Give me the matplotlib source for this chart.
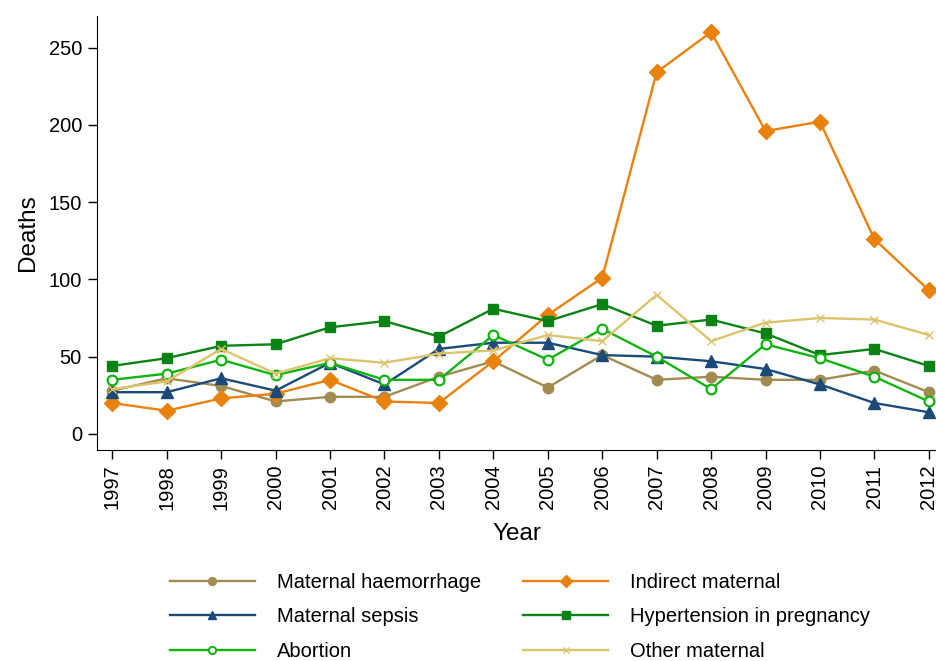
import matplotlib.pyplot as plt
import numpy as np

plt.rcParams['font.family'] = ['Liberation Sans', 'DejaVu Sans']

years = list(range(1997, 2013))

haemorrhage = [28, 36, 31, 21, 24, 24, 37, 47, 30, 51, 35, 37, 35, 35, 41, 27]
indirect = [20, 15, 23, 26, 35, 21, 20, 47, 77, 101, 234, 260, 196, 202, 126, 93]
sepsis = [27, 27, 36, 28, 46, 32, 55, 59, 59, 51, 50, 47, 42, 32, 20, 14]
hypertension = [44, 49, 57, 58, 69, 73, 63, 81, 73, 84, 70, 74, 65, 51, 55, 44]
abortion = [35, 39, 48, 38, 46, 35, 35, 64, 48, 68, 50, 29, 58, 49, 37, 21]
other = [29, 34, 55, 39, 49, 46, 52, 54, 64, 60, 90, 60, 72, 75, 74, 64]

fig = plt.figure(figsize=(9.37, 6.61), dpi=100)
ax = fig.add_axes([0.103, 0.319, 0.897, 0.657])

# (label, data, colour, marker, size, filled)
series = [
    ("Maternal haemorrhage", haemorrhage, "#A08C50", "o", 7.5, True),
    ("Indirect maternal", indirect, "#E8820C", "D", 8.5, True),
    ("Maternal sepsis", sepsis, "#1C4A78", "^", 8.5, True),
    ("Hypertension in pregnancy", hypertension, "#0A8214", "s", 7.5, True),
    ("Abortion", abortion, "#10B410", "o", 7, False),
    ("Other maternal", other, "#DCC46C", "x", 6, True),
]

handles = []
for label, vals, col, mk, ms, filled in series:
    ax.plot(years, vals, color=col, lw=1.7, marker=mk, ms=ms,
            mfc=col if filled else "white", mec=col, mew=1.6 if not filled else 1)
    # smaller markers for the legend keys
    h, = ax.plot([], [], color=col, lw=1.7, marker=mk, ms=ms * 0.75,
                 mfc=col if filled else "white", mec=col, mew=1.4 if not filled else 1)
    handles.append((h, label))

ax.set_xlim(1996.71, 2012.15)
ax.set_ylim(-10.5, 270.5)
ax.set_xticks(years)
ax.set_xticklabels([str(y) for y in years], rotation=90)
ax.set_yticks([0, 50, 100, 150, 200, 250])
ax.tick_params(direction='out', length=6.5, width=1, labelsize=14.5, pad=4)
ax.spines['top'].set_visible(False)
ax.spines['right'].set_visible(False)
ax.set_xlabel("Year", fontsize=17.5, labelpad=10)
ax.set_ylabel("Deaths", fontsize=17.5, labelpad=7)

# legend ordered row by row: two columns
order = [0, 2, 4, 1, 3, 5]
fig.legend([handles[i][0] for i in order], [handles[i][1] for i in order],
           loc='upper left', bbox_to_anchor=(0.173, 0.146), ncol=2,
           frameon=False, fontsize=14.5, handlelength=4.2, handletextpad=1.1,
           columnspacing=2.1, labelspacing=0.785, borderaxespad=0)

fig.savefig("out.png", dpi=100)
